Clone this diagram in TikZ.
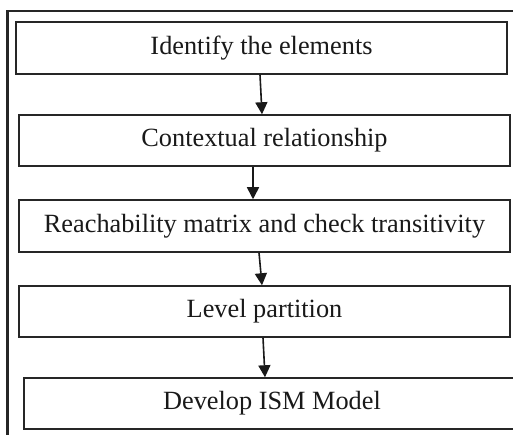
\documentclass[tikz,border=0pt]{standalone}
\usepackage{fontspec}
\setmainfont{Liberation Serif}
\usetikzlibrary{arrows.meta}
\begin{document}
\begin{tikzpicture}[x=1pt,y=-1pt,
  stepbox/.style={draw=black!85, line width=1.5pt, rectangle, inner sep=0pt,
    minimum width=491pt, minimum height=51pt, font=\fontsize{26.3}{30}\selectfont, text=black!90},
  conn/.style={draw=black!90, line width=1.6pt, -{Triangle[width=12pt,length=12pt]}},
  frame/.style={draw=black!85, line width=2.5pt}]
\useasboundingbox (0,0) rectangle (513,435);
\fill[white] (0,0) rectangle (513,435);
\draw[frame] (7.5,445) -- (7.5,11) -- (525,11);
\node[stepbox, minimum height=52pt] (b1) at (261.5,48) {Identify the elements};
\node[stepbox] (b2) at (264.5,140.5) {Contextual relationship};
\node[stepbox, minimum height=52pt] (b3) at (264.5,226) {Reachability matrix and check transitivity};
\node[stepbox] (b4) at (264.5,311.5) {Level partition};
\node[stepbox, minimum width=496pt] (b5) at (272,403.5) {Develop ISM Model};
\draw[conn] ([xshift=-1.5pt]b1.south) -- ([xshift=-2.5pt]b2.north);
\draw[conn] ([xshift=-11.5pt]b2.south) -- ([xshift=-11.5pt]b3.north);
\draw[conn] ([xshift=-5.5pt]b3.south) -- ([xshift=-2.5pt]b4.north);
\draw[conn] ([xshift=-1.5pt]b4.south) -- ([xshift=-7pt]b5.north);
\end{tikzpicture}
\end{document}
